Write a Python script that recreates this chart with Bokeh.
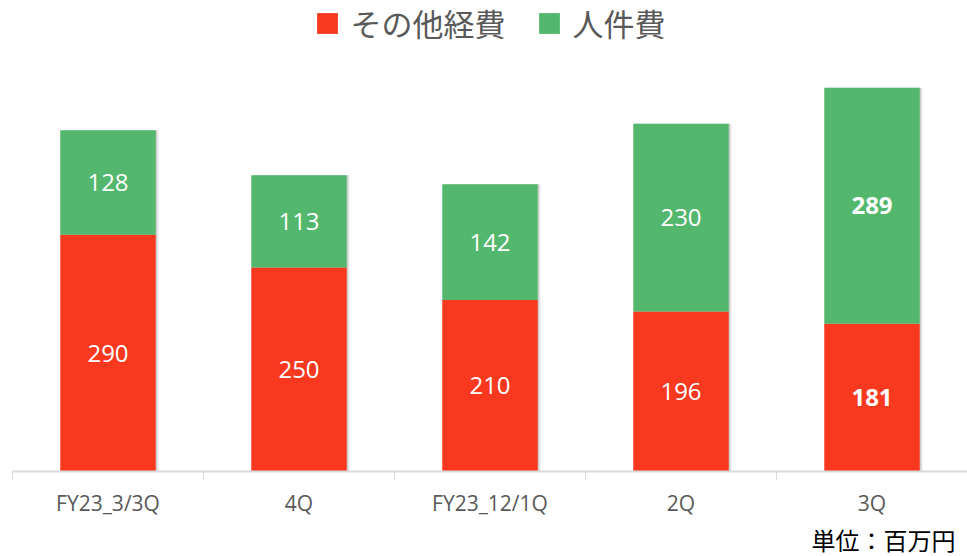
from bokeh.plotting import figure
from bokeh.models import ColumnDataSource, FixedTicker, Legend, LegendItem, Title, Range1d
from bokeh.core.properties import value
from bokeh.transform import dodge
from bokeh.embed import file_html
from bokeh.resources import INLINE

categories = ["FY23_3/3Q", "4Q", "FY23_12/1Q", "2Q", "3Q"]
other_exp = [290, 250, 210, 196, 181]
personnel = [128, 113, 142, 230, 289]
series_names = ["その他経費", "人件費"]
bold_flags = [False, False, False, False, True]

RED = "#F8391F"
GREEN = "#53B86D"

xs = [i + 0.5 for i in range(len(categories))]
src = ColumnDataSource(dict(
    x=xs,
    other=other_exp,
    pers=personnel,
    total=[o + p for o, p in zip(other_exp, personnel)],
    other_mid=[o / 2 for o in other_exp],
    pers_mid=[o + p / 2 for o, p in zip(other_exp, personnel)],
    other_lbl=[str(v) for v in other_exp],
    pers_lbl=[str(v) for v in personnel],
    fstyle=["bold" if b else "normal" for b in bold_flags],
))

p = figure(width=967, height=556, output_backend="svg", toolbar_location=None,
           x_range=Range1d(0, len(categories)), y_range=Range1d(0, 577),
           min_border_left=12, min_border_right=0, min_border_top=0, min_border_bottom=85)
p.outline_line_color = None
p.grid.visible = False
p.yaxis.visible = False
p.background_fill_color = "white"

# soft shadow
p.vbar(x=dodge("x", 0.014), bottom=-3, top="total", width=0.5, source=src,
       fill_color="black", fill_alpha=0.10, line_color=None)
p.vbar(x=dodge("x", 0.007), bottom=-1.5, top="total", width=0.5, source=src,
       fill_color="black", fill_alpha=0.10, line_color=None)
r = p.vbar_stack(["other", "pers"], x="x", width=0.5, source=src,
                 color=[RED, GREEN], line_color=None)

p.text(x="x", y="other_mid", text="other_lbl", source=src, text_color="white",
       text_align="center", text_baseline="middle", text_font_size="24px",
       text_font=value("Open Sans"), text_font_style="fstyle")
p.text(x="x", y="pers_mid", text="pers_lbl", source=src, text_color="white",
       text_align="center", text_baseline="middle", text_font_size="24px",
       text_font=value("Open Sans"), text_font_style="fstyle")

ax = p.xaxis[0]
ax.ticker = FixedTicker(ticks=xs, minor_ticks=list(range(len(categories) + 1)))
ax.major_label_overrides = {x: c for x, c in zip(xs, categories)}
ax.major_tick_line_color = None
ax.minor_tick_line_color = "#D9D9D9"
ax.minor_tick_in = 0
ax.minor_tick_out = 9
ax.axis_line_color = "#D9D9D9"
ax.axis_line_width = 2
ax.major_label_text_font = "Open Sans"
ax.major_label_text_font_size = "21px"
ax.major_label_text_color = "#595959"
ax.major_label_standoff = 8

legend = Legend(items=[LegendItem(label=series_names[0], renderers=[r[0]]),
                       LegendItem(label=series_names[1], renderers=[r[1]])],
                orientation="horizontal", location="top_center",
                background_fill_alpha=0, border_line_color=None,
                label_text_font="Noto Sans CJK JP", label_text_font_size="31px",
                label_text_color="#595959", glyph_width=26, glyph_height=26,
                spacing=30, label_standoff=11, padding=0, margin=0)
p.add_layout(legend)

unit = Title(text="単位：百万円", align="right", text_font="Noto Sans CJK JP",
             text_font_size="24px", text_color="black", text_font_style="normal",
             offset=12, standoff=0)
p.add_layout(unit, "below")

open("out.html", "w").write(file_html(p, INLINE))
